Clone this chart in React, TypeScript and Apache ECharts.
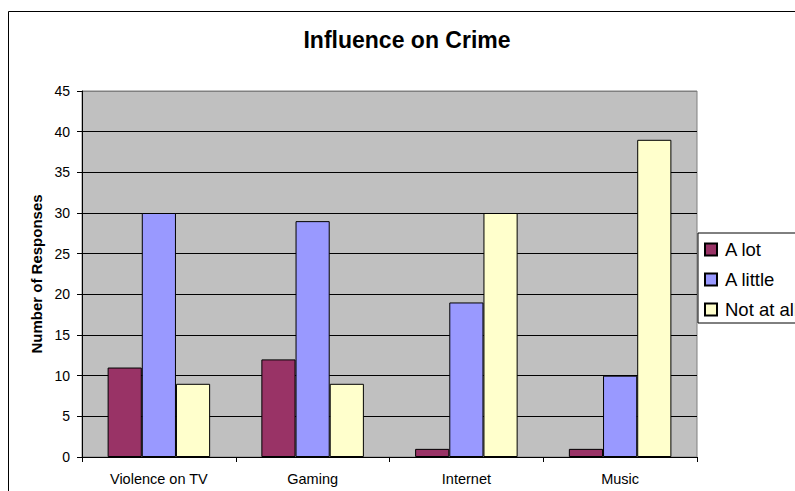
import React, { useEffect, useRef } from "react";
import * as echarts from "echarts";

const categories = ["Violence on TV", "Gaming", "Internet", "Music"];
const seriesNames = ["A lot", "A little", "Not at all"];
const aLot = [11, 12, 1, 1];
const aLittle = [30, 29, 19, 10];
const notAtAll = [9, 9, 30, 39];
const seriesColors = ["#993366", "#9999FF", "#FFFFCC"];
const yMin = 0;
const yMax = 45;
const yStep = 5;

const FONT = "'Liberation Sans', Arial, sans-serif";

export default function App() {
  const ref = useRef<HTMLDivElement>(null);
  useEffect(() => {
    if (!ref.current) return;
    const chart = echarts.init(ref.current, null, { renderer: "svg" });
    const values = [aLot, aLittle, notAtAll];
    const lineCount = Math.round((yMax - yMin) / yStep) + 1;
    const splitColors = Array.from({ length: lineCount }, (_, i) =>
      i === lineCount - 1 ? "#808080" : "#000000"
    );
    chart.setOption({
      animation: false,
      backgroundColor: "#ffffff",
      textStyle: { fontFamily: FONT },
      graphic: [
        {
          type: "rect",
          shape: { x: 8.5, y: 11.5, width: 820, height: 520 },
          style: { fill: "none", stroke: "#000", lineWidth: 1 },
          silent: true,
          z: 100,
        },
        {
          type: "text",
          x: 407,
          y: 40,
          style: {
            text: "Influence on Crime",
            fontFamily: FONT,
            fontWeight: "bold",
            fontSize: 23,
            fill: "#000",
            textAlign: "center",
            textVerticalAlign: "middle",
          },
        },
      ],
      grid: {
        left: 82,
        top: 91,
        width: 615,
        height: 366,
        show: true,
        backgroundColor: "#C0C0C0",
        borderColor: "#808080",
        borderWidth: 1,
      },
      legend: {
        orient: "vertical",
        left: 698,
        top: 233,
        backgroundColor: "#ffffff",
        borderColor: "#000000",
        borderWidth: 1,
        borderRadius: 0,
        padding: [7, 14, 4, 6],
        itemWidth: 12,
        itemHeight: 12,
        itemGap: 11,
        icon: "rect",
        data: seriesNames,
        textStyle: {
          fontFamily: FONT,
          fontSize: 18.5,
          color: "#000",
          lineHeight: 18,
          padding: [0, 0, 0, 3],
        },
      },
      xAxis: {
        type: "category",
        data: categories,
        axisLine: { show: true, lineStyle: { color: "#000", width: 1 } },
        axisTick: { show: true, length: 5, lineStyle: { color: "#000" } },
        axisLabel: {
          color: "#000",
          fontFamily: FONT,
          fontSize: 14.5,
          margin: 14,
        },
        splitLine: { show: false },
      },
      yAxis: {
        type: "value",
        min: yMin,
        max: yMax,
        interval: yStep,
        name: "Number of Responses",
        nameLocation: "middle",
        nameGap: 38,
        nameTextStyle: {
          fontFamily: FONT,
          fontWeight: "bold",
          fontSize: 15,
          color: "#000",
        },
        axisLine: { show: true, lineStyle: { color: "#000", width: 1 } },
        axisTick: { show: true, length: 5, lineStyle: { color: "#000" } },
        axisLabel: {
          color: "#000",
          fontFamily: FONT,
          fontSize: 14,
          margin: 12,
        },
        splitLine: { show: true, lineStyle: { color: splitColors, width: 1 } },
      },
      series: seriesNames.map((name, i) => ({
        name,
        type: "bar",
        data: values[i],
        barGap: "0%",
        barCategoryGap: "33.33%",
        itemStyle: {
          color: seriesColors[i],
          borderColor: "#000",
          borderWidth: 1,
        },
      })),
    });
    return () => chart.dispose();
  }, []);
  return (
    <div
      ref={ref}
      style={{
        position: "fixed",
        left: 0,
        top: 0,
        width: 795,
        height: 491,
        overflow: "hidden",
      }}
    />
  );
}
